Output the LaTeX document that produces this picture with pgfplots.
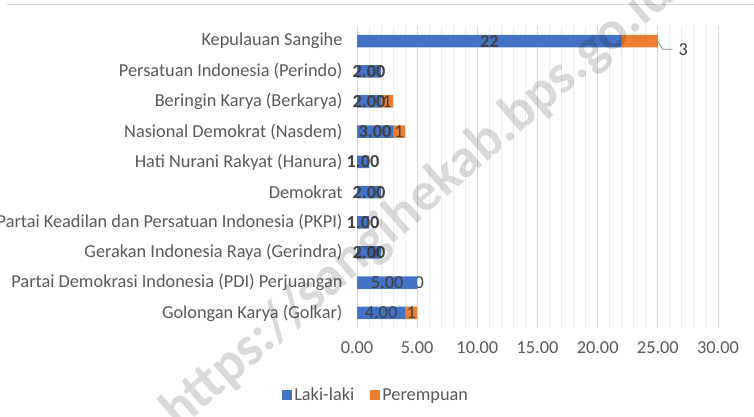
\documentclass[border=0pt]{standalone}
\usepackage{fontspec}
\setmainfont{Carlito}
\usepackage{pgfplots}
\usepackage{pgfplotstable}
\pgfplotsset{compat=1.18}

\definecolor{laki}{HTML}{4472C4}
\definecolor{perem}{HTML}{ED7D31}
\definecolor{ticktxt}{HTML}{595959}
\definecolor{lbltxt}{HTML}{404040}
\definecolor{gridmaj}{HTML}{D9D9D9}
\definecolor{gridmin}{HTML}{EDEDED}

% rows from bottom (0) to top (9); bf = bold data label
\pgfplotstableread{
y laki lakilbl bf perem peremlbl
0 4 4.00 0 1 1
1 5 5.00 0 0 {}
2 2 2.00 1 0 0
3 1 1.00 1 0 0
4 2 2.00 1 0 0
5 1 1.00 1 0 0
6 3 3.00 1 1 1
7 2 2.00 1 1 1
8 2 2.00 1 0 0
9 22 22 1 3 {}
}\data

\newcommand{\lblfont}{\fontsize{18.3bp}{21bp}\selectfont}

\begin{document}
\begin{tikzpicture}
\path[use as bounding box] (0,0) rectangle (754bp,417bp);
\clip (0,0) rectangle (754bp,417bp);
\draw[gridmaj, line width=1.2bp] (7bp,412.5bp) -- (754bp,412.5bp);

\begin{axis}[
    at={(357bp,89bp)}, anchor=south west,
    scale only axis,
    width=361bp, height=302bp,
    xbar stacked,
    bar width=12.5bp,
    xmin=0, xmax=30,
    ymin=-0.5, ymax=9.5,
    xtick={0,5,...,30},
    minor x tick num=4,
    xmajorgrids, xminorgrids,
    major grid style={draw=gridmaj, line width=0.9bp},
    minor grid style={draw=gridmin, line width=0.9bp},
    axis line style={draw=none},
    major tick length=0, minor tick length=0,
    ytick={0,...,9},
    yticklabels={
        Golongan Karya (Golkar),
        Partai Demokrasi Indonesia (PDI) Perjuangan,
        Gerakan Indonesia Raya (Gerindra),
        Partai Keadilan dan Persatuan Indonesia (PKPI),
        Demokrat,
        Hati Nurani Rakyat (Hanura),
        Nasional Demokrat (Nasdem),
        Beringin Karya (Berkarya),
        Persatuan Indonesia (Perindo),
        Kepulauan Sangihe},
    tick label style={font=\lblfont, color=ticktxt},
    yticklabel style={xshift=-11bp},
    xticklabel style={yshift=-10bp},
    /pgf/number format/assume math mode=true,
    xticklabel={\pgfmathprintnumber[fixed,fixed zerofill,precision=2]{\tick}},
    legend style={at={(0.053,-0.222)}, anchor=center, draw=none,
        font=\lblfont, text=ticktxt, legend columns=-1,
        /tikz/every even column/.append style={column sep=14bp}},
]
% stacked bars: with anchor=center the labels sit in the middle of each segment
\addplot[fill=laki, draw=none,
    point meta=explicit symbolic,
    nodes near coords,
    visualization depends on={\thisrow{bf} \as \isbold},
    every node near coord/.append style={font=\lblfont\ifdim\isbold pt>0.5pt \bfseries\fi,
        color=lbltxt, anchor=center, inner sep=0pt},
    legend image code/.code={\fill[laki] (0bp,-5bp) rectangle (10bp,5bp);}]
    table[x=laki, y=y, meta=lakilbl] {\data};
\addlegendentry{Laki-laki}
\addplot[fill=perem, draw=none,
    point meta=explicit symbolic,
    nodes near coords,
    every node near coord/.append style={font=\lblfont,
        color=lbltxt, anchor=center, inner sep=0pt},
    legend image code/.code={\fill[perem] (0bp,-5bp) rectangle (10bp,5bp);}]
    table[x=perem, y=y, meta=peremlbl] {\data};
\addlegendentry{Perempuan}

% labels placed by hand: zero segment of PDI, and the callout for Sangihe
\node[font=\lblfont, color=lbltxt, inner sep=0pt, xshift=2bp] at (axis cs:5,1) {0};
\draw[gray, line width=0.7bp] (axis cs:25,9) -- (axis cs:25.4,8.73) -- (axis cs:26.2,8.73)
    node[right, inner sep=6bp, font=\lblfont, color=lbltxt] {3};
\end{axis}

\node[rotate=41, color=black, opacity=0.15, font=\fontsize{55bp}{62bp}\selectfont\bfseries]
    at (418bp,214bp) {https://sangihekab.bps.go.id};
\end{tikzpicture}
\end{document}
